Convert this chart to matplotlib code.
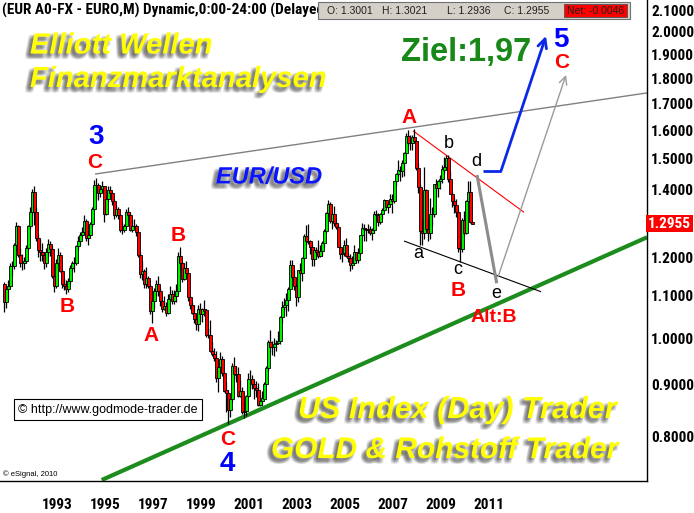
import numpy as np
import pandas as pd
import matplotlib
matplotlib.use('Agg')
import matplotlib.pyplot as plt
import matplotlib.patheffects as pe
import matplotlib.transforms as mtransforms
from matplotlib import font_manager as fm
from matplotlib.patches import Rectangle
from matplotlib.ticker import NullLocator

# monthly EUR/USD candles, Jun 1991 - Dec 2010 (synthetic euro before 1999)
first_open = 1.130
closes = [
    1.085, 1.118, 1.124, 1.178, 1.178, 1.235, 1.287,
    1.207, 1.185, 1.185, 1.190, 1.225, 1.287, 1.330, 1.390, 1.330, 1.255, 1.220, 1.215,
    1.207, 1.185, 1.215, 1.238, 1.222, 1.150, 1.124, 1.185, 1.207, 1.164, 1.130, 1.124,
    1.118, 1.137, 1.171, 1.185, 1.185, 1.230, 1.246, 1.262, 1.270, 1.304, 1.254, 1.262,
    1.295, 1.340, 1.415, 1.415, 1.387, 1.400, 1.410, 1.325, 1.368, 1.397, 1.387, 1.363,
    1.321, 1.340, 1.321, 1.278, 1.278, 1.287, 1.330, 1.321, 1.278, 1.287, 1.287, 1.270,
    1.207, 1.157, 1.164, 1.130, 1.144, 1.124, 1.063, 1.087, 1.111, 1.130, 1.111, 1.087,
    1.069, 1.075, 1.057, 1.093, 1.105, 1.087, 1.099, 1.111, 1.205, 1.185, 1.144, 1.171,
    1.1591, 1.0963, 1.0765, 1.0582, 1.0445, 1.0323, 1.0689, 1.0563, 1.0685, 1.0641, 1.0077, 1.0070,
    0.9705, 0.9645, 0.9567, 0.9128, 0.9368, 0.9542, 0.9239, 0.8880, 0.8824, 0.8492, 0.8706, 0.9388,
    0.9226, 0.9207, 0.8779, 0.8868, 0.8453, 0.8473, 0.8762, 0.9121, 0.9120, 0.9003, 0.8933, 0.8895,
    0.8595, 0.8668, 0.8720, 0.9012, 0.9334, 0.9915, 0.9788, 0.9796, 0.9860, 0.9891, 0.9932, 1.0487,
    1.0735, 1.0777, 1.0899, 1.1183, 1.1808, 1.1489, 1.1242, 1.0984, 1.1650, 1.1596, 1.1991, 1.2597,
    1.2448, 1.2439, 1.2289, 1.1967, 1.2194, 1.2159, 1.2026, 1.2174, 1.2400, 1.2746, 1.3259, 1.3554,
    1.3034, 1.3246, 1.2962, 1.2868, 1.2292, 1.2098, 1.2127, 1.2336, 1.2025, 1.1994, 1.1787, 1.1842,
    1.2158, 1.1925, 1.2119, 1.2624, 1.2812, 1.2791, 1.2755, 1.2798, 1.2673, 1.2759, 1.3247, 1.3199,
    1.3013, 1.3231, 1.3355, 1.3649, 1.3449, 1.3538, 1.3697, 1.3635, 1.4262, 1.4483, 1.4638, 1.4590,
    1.4865, 1.5184, 1.5784, 1.5560, 1.5548, 1.5755, 1.5604, 1.4676, 1.4081, 1.2728, 1.2695, 1.3971,
    1.2805, 1.2671, 1.3250, 1.3232, 1.4153, 1.4034, 1.4251, 1.4329, 1.4640, 1.4718, 1.5011, 1.4320,
    1.3865, 1.3629, 1.3510, 1.3297, 1.2270, 1.2233, 1.3049, 1.2683, 1.3632, 1.3926, 1.3003, 1.2955,
]
highs = [
    1.135, 1.125, 1.140, 1.185, 1.190, 1.240, 1.300,
    1.290, 1.225, 1.210, 1.200, 1.235, 1.290, 1.345, 1.400, 1.410, 1.345, 1.265, 1.250,
    1.240, 1.215, 1.225, 1.250, 1.245, 1.230, 1.155, 1.195, 1.225, 1.215, 1.170, 1.145,
    1.140, 1.145, 1.180, 1.190, 1.200, 1.235, 1.260, 1.270, 1.285, 1.320, 1.310, 1.275,
    1.300, 1.345, 1.430, 1.435, 1.420, 1.410, 1.425, 1.410, 1.380, 1.410, 1.410, 1.390,
    1.370, 1.350, 1.345, 1.325, 1.300, 1.295, 1.340, 1.345, 1.330, 1.305, 1.310, 1.295,
    1.275, 1.215, 1.190, 1.170, 1.175, 1.150, 1.130, 1.095, 1.120, 1.140, 1.150, 1.120,
    1.090, 1.100, 1.085, 1.105, 1.125, 1.115, 1.115, 1.130, 1.215, 1.229, 1.190, 1.185,
    1.1905, 1.1450, 1.1000, 1.0860, 1.0780, 1.0550, 1.0770, 1.0830, 1.0700, 1.0900, 1.0690, 1.0220,
    1.0410, 0.9920, 0.9780, 0.9700, 0.9390, 0.9680, 0.9600, 0.9250, 0.9050, 0.8900, 0.8720, 0.9440,
    0.9590, 0.9380, 0.9360, 0.9090, 0.8960, 0.8650, 0.8800, 0.9230, 0.9310, 0.9200, 0.9090, 0.9080,
    0.9030, 0.8780, 0.8860, 0.9060, 0.9390, 0.9960, 1.0190, 0.9930, 0.9990, 0.9950, 1.0150, 1.0500,
    1.0880, 1.0950, 1.1080, 1.1230, 1.1930, 1.1930, 1.1650, 1.1330, 1.1660, 1.1840, 1.2000, 1.2650,
    1.2900, 1.2930, 1.2480, 1.2400, 1.2280, 1.2280, 1.2470, 1.2350, 1.2440, 1.2810, 1.3300, 1.3667,
    1.3590, 1.3280, 1.3480, 1.3100, 1.2940, 1.2430, 1.2250, 1.2480, 1.2530, 1.2110, 1.2100, 1.2040,
    1.2330, 1.2160, 1.2250, 1.2630, 1.2980, 1.2940, 1.2840, 1.2950, 1.2870, 1.2830, 1.3330, 1.3370,
    1.3270, 1.3260, 1.3410, 1.3680, 1.3640, 1.3540, 1.3850, 1.3850, 1.4280, 1.4530, 1.4970, 1.4760,
    1.4970, 1.5240, 1.5900, 1.6020, 1.5820, 1.5840, 1.6038, 1.5630, 1.4860, 1.4160, 1.3080, 1.4719,
    1.4000, 1.3050, 1.3740, 1.3460, 1.4180, 1.4340, 1.4300, 1.4450, 1.4800, 1.5060, 1.5144, 1.5140,
    1.4580, 1.3900, 1.3750, 1.3690, 1.3400, 1.2440, 1.3120, 1.3330, 1.3650, 1.4280, 1.4250, 1.3021,
]
lows = [
    1.060, 1.070, 1.090, 1.120, 1.150, 1.170, 1.220,
    1.200, 1.175, 1.165, 1.170, 1.185, 1.220, 1.280, 1.320, 1.290, 1.245, 1.200, 1.190,
    1.190, 1.170, 1.175, 1.205, 1.205, 1.145, 1.110, 1.120, 1.180, 1.160, 1.120, 1.115,
    1.105, 1.110, 1.130, 1.165, 1.160, 1.180, 1.220, 1.235, 1.255, 1.265, 1.245, 1.235,
    1.255, 1.285, 1.335, 1.370, 1.365, 1.375, 1.390, 1.300, 1.320, 1.360, 1.370, 1.350,
    1.310, 1.315, 1.310, 1.270, 1.265, 1.270, 1.280, 1.310, 1.275, 1.270, 1.280, 1.260,
    1.200, 1.145, 1.140, 1.120, 1.120, 1.120, 1.055, 1.034, 1.070, 1.100, 1.100, 1.075,
    1.060, 1.065, 1.050, 1.055, 1.090, 1.080, 1.080, 1.085, 1.105, 1.165, 1.135, 1.140,
    1.1450, 1.0880, 1.0690, 1.0550, 1.0350, 1.0190, 1.0150, 1.0400, 1.0380, 1.0520, 1.0030, 1.0000,
    0.9680, 0.9610, 0.9500, 0.9050, 0.8844, 0.9240, 0.9180, 0.8850, 0.8460, 0.8228, 0.8370, 0.8660,
    0.9120, 0.9050, 0.8750, 0.8750, 0.8420, 0.8350, 0.8390, 0.8730, 0.8930, 0.8920, 0.8720, 0.8760,
    0.8580, 0.8570, 0.8600, 0.8710, 0.8990, 0.9280, 0.9680, 0.9620, 0.9610, 0.9700, 0.9870, 0.9860,
    1.0340, 1.0620, 1.0500, 1.0620, 1.1160, 1.1410, 1.1150, 1.0760, 1.0850, 1.1520, 1.1380, 1.1950,
    1.2340, 1.2360, 1.2080, 1.1760, 1.1760, 1.1950, 1.1990, 1.2000, 1.2040, 1.2290, 1.2680, 1.3140,
    1.2960, 1.2800, 1.2890, 1.2810, 1.2300, 1.1950, 1.1870, 1.2030, 1.2000, 1.1870, 1.1640, 1.1690,
    1.1830, 1.1860, 1.1860, 1.2070, 1.2590, 1.2460, 1.2450, 1.2690, 1.2630, 1.2480, 1.2690, 1.3040,
    1.2870, 1.2930, 1.3080, 1.3320, 1.3410, 1.3270, 1.3500, 1.3260, 1.3580, 1.4090, 1.4420, 1.4270,
    1.4400, 1.4440, 1.5170, 1.5450, 1.5300, 1.5290, 1.5530, 1.4630, 1.3880, 1.2330, 1.2330, 1.2500,
    1.2750, 1.2457, 1.2520, 1.2890, 1.3160, 1.3750, 1.3750, 1.4000, 1.4210, 1.4490, 1.4640, 1.4220,
    1.3860, 1.3440, 1.3270, 1.3150, 1.2140, 1.1876, 1.2150, 1.2590, 1.2650, 1.3700, 1.2970, 1.2936,
]
last_ohlc = ['O: 1.3001', 'H: 1.3021', 'L: 1.2936', 'C: 1.2955']
net_text = 'Net: -0.0046'
last_price = 1.2955
price_ticks = [0.8, 0.9, 1.0, 1.1, 1.2, 1.4, 1.5, 1.6, 1.7, 1.8, 1.9, 2.0, 2.1]
year_labels = list(range(1993, 2012, 2))

# drawn trendlines (month index since Jan 1991, price)
upper_line = [(50.5, 1.449), (326.5, 1.741)]
support_line = [(53.85, 0.7252), (326.5, 1.2559)]
red_line = [(209.5, 1.598), (265.0, 1.329)]
black_line = [(205.0, 1.2454), (273.5, 1.1104)]
gray_de = [(241.5, 1.446), (251.35, 1.1318)]
gray_arrow = [(252.0, 1.148), (286.0, 1.813)]
blue_path = [(244.5, 1.4592), (253.5, 1.4592), (276.0, 1.9804)]

# wave labels: text, month index, price, colour, size, weight
wave_labels = [
    ('3', 51.0, 1.576, '#0000ff', 20, 'bold'),
    ('C', 50.15, 1.487, '#ff0000', 15, 'bold'),
    ('B', 36.35, 1.0734, '#ff0000', 15, 'bold'),
    ('A', 78.35, 1.0068, '#ff0000', 15, 'bold'),
    ('B', 92.25, 1.2596, '#ff0000', 15, 'bold'),
    ('C', 116.85, 0.794, '#ff0000', 15, 'bold'),
    ('4', 116.85, 0.752, '#0000ff', 20, 'bold'),
    ('A', 207.5, 1.6487, '#ff0000', 15, 'bold'),
    ('b', 227.15, 1.5528, 'black', 13, 'normal'),
    ('d', 241.35, 1.490, 'black', 13, 'normal'),
    ('a', 212.0, 1.2107, 'black', 13, 'normal'),
    ('c', 231.65, 1.1676, 'black', 13, 'normal'),
    ('B', 232.15, 1.1147, '#ff0000', 15, 'bold'),
    ('e', 251.0, 1.1064, 'black', 13, 'normal'),
    ('Alt:B', 250.0, 1.0463, '#ff0000', 14, 'bold'),
    ('5', 283.5, 1.9625, '#0000ff', 20, 'bold'),
    ('C', 284.0, 1.867, '#ff0000', 15, 'bold'),
]

W, H = 694, 513
arial = ['Liberation Sans', 'DejaVu Sans']

# eSignal uses a narrow bold face for axis text; take the narrowest one available
_fonts = fm.fontManager.ttflist


def _has(name, stretch=None):
    return any(f.name == name and (stretch is None or f.stretch == stretch) for f in _fonts)


if _has('Liberation Sans Narrow'):
    narrow, nsize = dict(family=['Liberation Sans Narrow', 'DejaVu Sans']), 11
elif _has('Roboto Condensed'):
    narrow, nsize = dict(family=['Roboto Condensed', 'DejaVu Sans']), 11
elif _has('DejaVu Sans Condensed'):
    narrow, nsize = dict(family=['DejaVu Sans Condensed', 'DejaVu Sans']), 9.6
elif _has('DejaVu Sans', 'condensed'):
    narrow, nsize = dict(family=['DejaVu Sans'], fontstretch='condensed'), 9.6
else:
    narrow, nsize = dict(family=arial), 9.2
narrow['fontweight'] = 'bold'


def fx(px):
    return px / W


def fy(py):
    return 1 - py / H


def soft_shadow(dx=-2.5, dy=-2.5, color='#505050'):
    steps = (-1.5, -0.75, 0, 0.75, 1.5)
    fxs = [pe.SimplePatchShadow(offset=(dx + i, dy + j), shadow_rgbFace=color, alpha=0.06)
           for i in steps for j in steps]
    return fxs + [pe.Normal()]


dates = pd.date_range('1991-06-01', periods=len(closes), freq='MS')
m = np.array((dates.year - 1991) * 12 + dates.month - 1, dtype=float)
c = np.array(closes)
o = np.concatenate([[first_open], c[:-1]])
h = np.maximum(np.array(highs), np.maximum(o, c))
l = np.minimum(np.array(lows), np.minimum(o, c))
up = c >= o

fig = plt.figure(figsize=(W / 100, H / 100), dpi=100)
fig.patch.set_facecolor('white')
ax = fig.add_axes([0, fy(481), fx(647), 481 / H])
ax.set_yscale('log')
ax.set_xlim(3, 326.5)
ax.set_ylim(np.exp(-143 / 442), np.exp(338 / 442))

# candles
ax.vlines(m, l, h, color='black', lw=0.9, zorder=3)
ax.bar(m, np.abs(c - o) + 1e-4, bottom=np.minimum(o, c), width=1.5,
       color=np.where(up, '#00f000', '#ff0000'), edgecolor='black', linewidth=0.6, zorder=4)


# trendlines and projections
def seg(pts, **kw):
    xs, ys = zip(*pts)
    ax.plot(xs, ys, solid_capstyle='butt', **kw)


seg(upper_line, color='#808080', lw=1.0, zorder=2)
seg(support_line, color='#1c8c1c', lw=3.0, zorder=2)
seg(red_line, color='#ff0000', lw=0.8, zorder=2)
seg(black_line, color='black', lw=0.8, zorder=2)
seg(gray_de, color='#8c8c8c', lw=2.2, zorder=5)
ax.annotate('', xy=gray_arrow[1], xytext=gray_arrow[0],
            arrowprops=dict(arrowstyle='->', color='#9a9a9a', lw=1.0,
                            shrinkA=0, shrinkB=0, mutation_scale=14), zorder=5)
seg(blue_path[:2], color='#0a28e6', lw=2.0, zorder=5)
ax.annotate('', xy=blue_path[2], xytext=blue_path[1],
            arrowprops=dict(arrowstyle='->', color='#0a28e6', lw=2.0,
                            shrinkA=0, shrinkB=0, mutation_scale=16), zorder=5)

for txt, xm, yp, col, size, wt in wave_labels:
    ax.text(xm, yp, txt, color=col, fontsize=size, fontweight=wt,
            family=arial, ha='center', va='center', zorder=6)

ax.text(236.0, 1.9056, 'Ziel:1,97', color='#188818', fontsize=23.5, fontweight='bold',
        family=arial, ha='center', va='center', zorder=6)
ax.text(137.5, 1.4395, 'EUR/USD', color='#0a14ff', fontsize=17, fontweight='bold',
        style='italic', family=arial, ha='center', va='center', zorder=6,
        path_effects=soft_shadow())

# axes frame and ticks
for side in ('left', 'top'):
    ax.spines[side].set_visible(False)
for side in ('right', 'bottom'):
    ax.spines[side].set_linewidth(1.0)
ax.yaxis.tick_right()
ax.yaxis.set_minor_locator(NullLocator())
ax.set_yticks(price_ticks, labels=[f'{v:.4f}' for v in price_ticks],
              fontsize=nsize, ha='left', **narrow)
ax.tick_params(axis='y', length=0, pad=3)
ax.set_xticks([12 * (y - 1991) for y in year_labels], labels=[str(y) for y in year_labels],
              fontsize=nsize, ha='left', **narrow)
ax.tick_params(axis='x', length=0, pad=12)

ax.text(1.002, last_price, f'{last_price:.4f}',
        transform=mtransforms.blended_transform_factory(ax.transAxes, ax.transData),
        color='white', fontsize=nsize, ha='left', va='center', clip_on=False,
        bbox=dict(boxstyle='square,pad=0.12', facecolor='#ff0000', edgecolor='none'), **narrow)

# header line, partly hidden behind the ohlc box like in eSignal
title = fig.text(fx(2), fy(10), '(EUR A0-FX - EURO,M) Dynamic,0:00-24:00 (Delayed)', fontsize=nsize,
                 va='center', ha='left', zorder=5, **narrow)
title.set_clip_box(mtransforms.Bbox.from_extents(0, 0, 318, H))
title.set_clip_on(True)
fig.add_artist(Rectangle((fx(318), fy(19)), fx(630 - 318), 17 / H, transform=fig.transFigure,
                         facecolor='#d4d0c8', edgecolor='#707070', lw=0.8, zorder=10))
fig.add_artist(Rectangle((fx(564), fy(17)), fx(627 - 564), 13 / H, transform=fig.transFigure,
                         facecolor='#ff0000', edgecolor='#505050', lw=0.6, zorder=11))
for txt, xp in zip(last_ohlc, [327, 382, 447, 504]):
    fig.text(fx(xp), fy(10.5), txt, fontsize=7.5, family=arial, color='#202020',
             va='center', ha='left', zorder=12)
fig.text(fx(567), fy(10.5), net_text, fontsize=7.5, family=arial, color='#202020',
         va='center', ha='left', zorder=12)

# overlay captions
big = dict(color='#ffff00', fontweight='bold', style='italic', family=arial,
           ha='left', va='center', zorder=7, path_effects=soft_shadow())
fig.text(fx(30), fy(45.5), 'Elliott Wellen', fontsize=21, **big)
fig.text(fx(30), fy(79), 'Finanzmarktanalysen', fontsize=21, **big)
fig.text(fx(298), fy(410), 'US Index (Day) Trader', fontsize=22, **big)
fig.text(fx(271), fy(450), 'GOLD & Rohstoff Trader', fontsize=21.5, **big)

fig.text(fx(108), fy(409.5), '\u00a9 http://www.godmode-trader.de', fontsize=9, family=arial,
         ha='center', va='center', zorder=7,
         bbox=dict(boxstyle='square,pad=0.35', facecolor='white', edgecolor='black', lw=0.8))
fig.text(fx(3), fy(474), '\u00a9 eSignal, 2010', fontsize=5.5, family=arial,
         ha='left', va='center', zorder=7)

fig.savefig('out.png', dpi=100, facecolor='white')
